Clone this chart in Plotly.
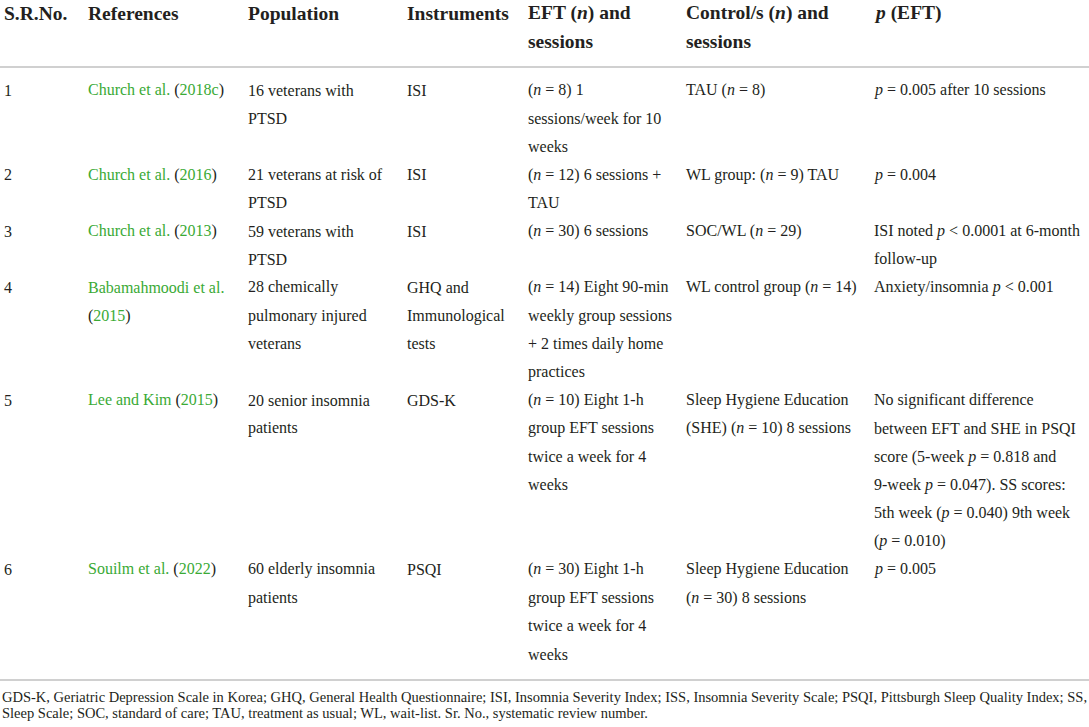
import plotly.graph_objects as go

# table content, one list of lines per cell
GREEN = "#3aaa35"
TEXT = "#231f20"


def ref(name):
    return f'<span style="color:{GREEN}">{name}</span>'


def yr(year):
    return f'(<span style="color:{GREEN}">{year}</span>)'


headers = [
    ["S.R.No."],
    ["References"],
    ["Population"],
    ["Instruments"],
    ["EFT (<i>n</i>) and", "sessions"],
    ["Control/s (<i>n</i>) and", "sessions"],
    ["<i>p</i> (EFT)"],
]

sr_no = [["1"], ["2"], ["3"], ["4"], ["5"], ["6"]]

references = [
    [ref("Church et al.") + " " + yr("2018c")],
    [ref("Church et al.") + " " + yr("2016")],
    [ref("Church et al.") + " " + yr("2013")],
    [ref("Babamahmoodi et al."), yr("2015")],
    [ref("Lee and Kim") + " " + yr("2015")],
    [ref("Souilm et al.") + " " + yr("2022")],
]

population = [
    ["16 veterans with", "PTSD"],
    ["21 veterans at risk of", "PTSD"],
    ["59 veterans with", "PTSD"],
    ["28 chemically", "pulmonary injured", "veterans"],
    ["20 senior insomnia", "patients"],
    ["60 elderly insomnia", "patients"],
]

instruments = [
    ["ISI"],
    ["ISI"],
    ["ISI"],
    ["GHQ and", "Immunological", "tests"],
    ["GDS-K"],
    ["PSQI"],
]

eft = [
    ["(<i>n</i> = 8) 1", "sessions/week for 10", "weeks"],
    ["(<i>n</i> = 12) 6 sessions +", "TAU"],
    ["(<i>n</i> = 30) 6 sessions"],
    ["(<i>n</i> = 14) Eight 90-min", "weekly group sessions", "+ 2 times daily home", "practices"],
    ["(<i>n</i> = 10) Eight 1-h", "group EFT sessions", "twice a week for 4", "weeks"],
    ["(<i>n</i> = 30) Eight 1-h", "group EFT sessions", "twice a week for 4", "weeks"],
]

controls = [
    ["TAU (<i>n</i> = 8)"],
    ["WL group: (<i>n</i> = 9) TAU"],
    ["SOC/WL (<i>n</i> = 29)"],
    ["WL control group (<i>n</i> = 14)"],
    ["Sleep Hygiene Education", "(SHE) (<i>n</i> = 10) 8 sessions"],
    ["Sleep Hygiene Education", "(<i>n</i> = 30) 8 sessions"],
]

p_eft = [
    ["<i>p</i> = 0.005 after 10 sessions"],
    ["<i>p</i> = 0.004"],
    ["ISI noted <i>p</i> &lt; 0.0001 at 6-month", "follow-up"],
    ["Anxiety/insomnia <i>p</i> &lt; 0.001"],
    ["No significant difference", "between EFT and SHE in PSQI",
     "score (5-week <i>p</i> = 0.818 and", "9-week <i>p</i> = 0.047). SS scores:",
     "5th week (<i>p</i> = 0.040) 9th week", "(<i>p</i> = 0.010)"],
    ["<i>p</i> = 0.005"],
]

footnote = [
    "GDS-K, Geriatric Depression Scale in Korea; GHQ, General Health Questionnaire; ISI, Insomnia Severity Index; "
    "ISS, Insomnia Severity Scale; PSQI, Pittsburgh Sleep Quality Index; SS,",
    "Sleep Scale; SOC, standard of care; TAU, treatment as usual; WL, wait-list. Sr. No., systematic review number.",
]

columns = [sr_no, references, population, instruments, eft, controls, p_eft]
col_x = [2, 86, 246, 405, 526, 684, 872]

W, H = 1089, 727
LINE = 28.2
FONT = "'Liberation Serif', 'Times New Roman', serif"

fig = go.Figure()
annotations = []

# header
for cx, cell in zip(col_x, headers):
    for k, line in enumerate(cell):
        annotations.append(dict(x=cx, y=13 + 28 * k, text=f"<b>{line}</b>",
                                font=dict(family=FONT, size=19.5, color=TEXT)))

# body
y = 90
for r in range(len(sr_no)):
    nlines = max(len(col[r]) for col in columns)
    for cx, col in zip(col_x, columns):
        for k, line in enumerate(col[r]):
            annotations.append(dict(x=cx, y=y + LINE * k, text=line,
                                    font=dict(family=FONT, size=16, color=TEXT)))
    y += LINE * nlines

# footnote
for k, line in enumerate(footnote):
    annotations.append(dict(x=0, y=697 + 16 * k, text=line,
                            font=dict(family=FONT, size=14.5, color=TEXT)))

for a in annotations:
    a.update(xref="x", yref="y", xanchor="left", yanchor="middle", showarrow=False)

fig.update_layout(
    width=W, height=H,
    margin=dict(l=0, r=0, t=0, b=0),
    paper_bgcolor="white", plot_bgcolor="white",
    xaxis=dict(range=[0, W], visible=False, fixedrange=True),
    yaxis=dict(range=[H, 0], visible=False, fixedrange=True),
    annotations=annotations,
    shapes=[
        dict(type="line", xref="x", yref="y", x0=0, x1=W, y0=67, y1=67,
             line=dict(color="#d0d0d0", width=2)),
        dict(type="line", xref="x", yref="y", x0=0, x1=W, y0=680, y1=680,
             line=dict(color="#d0d0d0", width=2)),
    ],
    showlegend=False,
)

# drop the browser's default page margin so the figure sits at (0, 0)
fig.write_html("out.html", config={"displayModeBar": False},
               post_script="document.body.style.margin='0';document.body.style.overflow='hidden';")
